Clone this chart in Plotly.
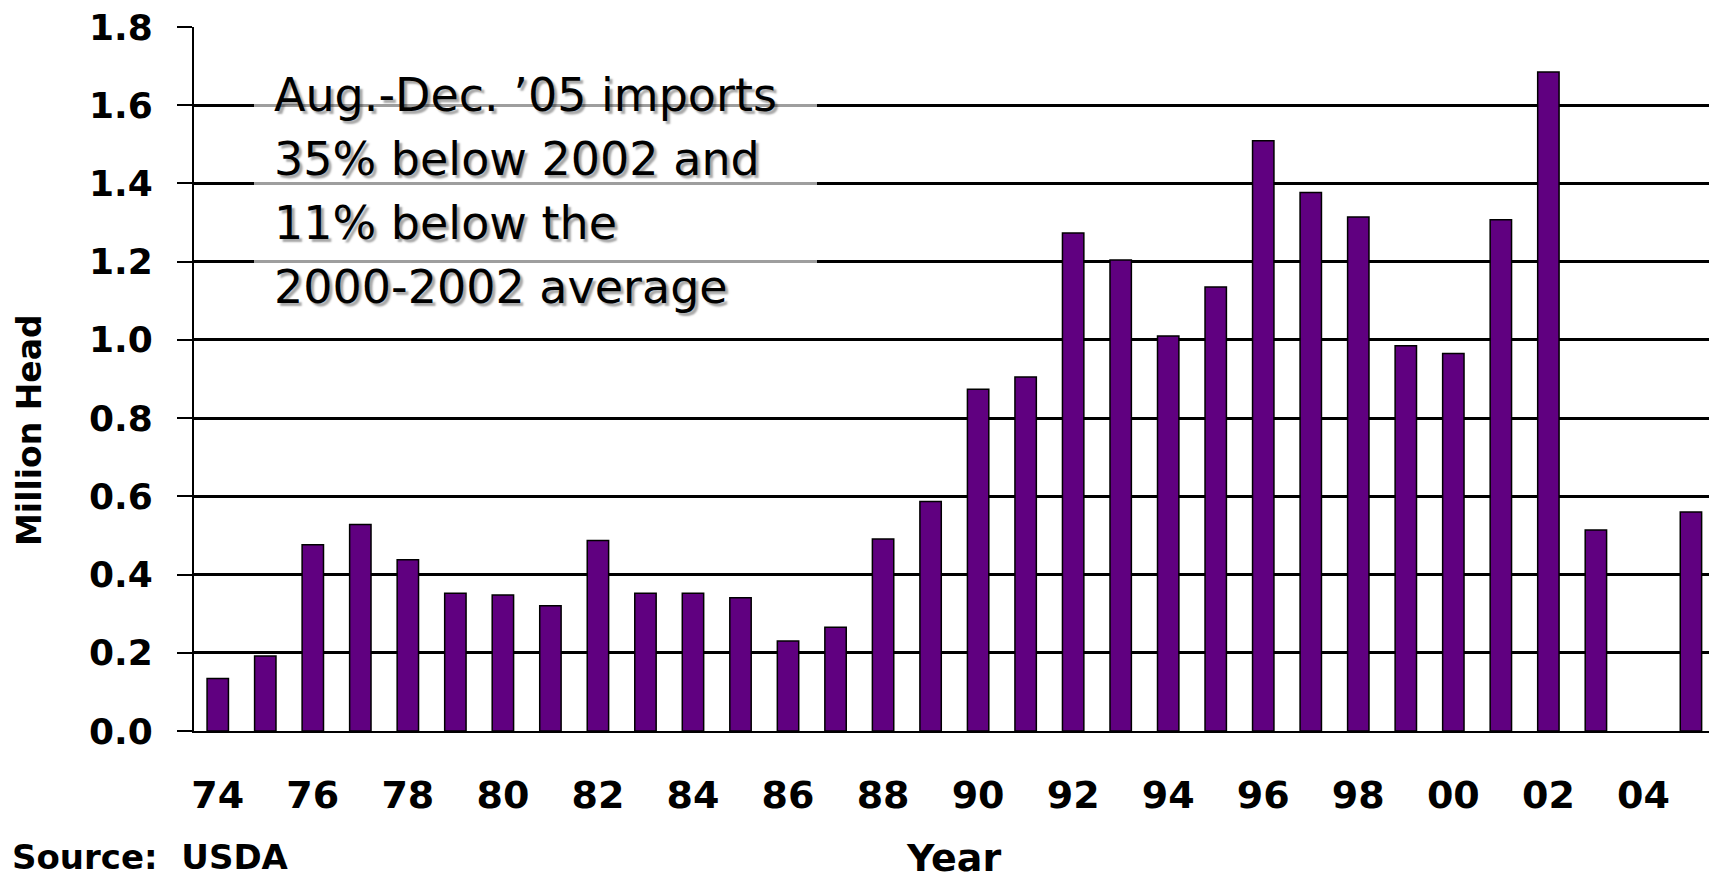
import plotly.graph_objects as go

# ---- data ----
years = ["74", "75", "76", "77", "78", "79", "80", "81", "82", "83", "84",
         "85", "86", "87", "88", "89", "90", "91", "92", "93", "94", "95",
         "96", "97", "98", "99", "00", "01", "02", "03", "04", "05"]
imports = [0.134, 0.192, 0.476, 0.528, 0.438, 0.352, 0.348, 0.320, 0.487, 0.352, 0.352,
           0.341, 0.230, 0.265, 0.491, 0.587, 0.874, 0.905, 1.273, 1.204, 1.010, 1.135,
           1.509, 1.377, 1.314, 0.985, 0.965, 1.307, 1.685, 0.514, None, 0.560]
tick_vals = ["74", "76", "78", "80", "82", "84", "86", "88", "90", "92", "94",
             "96", "98", "00", "02", "04"]
y_ticks = [0.0, 0.2, 0.4, 0.6, 0.8, 1.0, 1.2, 1.4, 1.6, 1.8]
note_lines = ["Aug.-Dec. \u201905 imports", "35% below 2002 and",
              "11% below the", "2000-2002 average"]

W, H = 1709, 880
L, T, B = 194, 27, 731          # plot area pixel edges
PW, PH = W - L, B - T


def px(x):
    return (x - L) / PW


def py(y):
    return (B - y) / PH


fig = go.Figure()
fig.add_trace(go.Bar(
    x=years, y=imports,
    marker=dict(color="#600080", line=dict(color="#000000", width=1.5)),
))

ann = []
baselines = [110, 174, 238, 302]
for txt, bl in zip(note_lines, baselines):
    ann.append(dict(
        text=txt, xref="paper", yref="paper", x=px(272), y=py(bl - 15),
        xanchor="left", yanchor="middle", showarrow=False,
        font=dict(family="DejaVu Sans", size=46, color="#000000",
                  shadow="3px 3px 2px rgba(0,0,0,0.35)"),
    ))
ann.append(dict(text="<b>Million Head</b>", xref="paper", yref="paper",
                x=px(29), y=py(430), textangle=-90, showarrow=False,
                xanchor="center", yanchor="middle",
                font=dict(family="DejaVu Sans", size=33, color="#000000")))
ann.append(dict(text="<b>Year</b>", xref="paper", yref="paper",
                x=px(953), y=py(858), showarrow=False,
                xanchor="center", yanchor="middle",
                font=dict(family="DejaVu Sans", size=38, color="#000000")))
ann.append(dict(text="<b>Source:  USDA</b>", xref="paper", yref="paper",
                x=px(10), y=py(857), showarrow=False,
                xanchor="left", yanchor="middle",
                font=dict(family="DejaVu Sans", size=34, color="#000000")))

fig.update_layout(
    width=W, height=H,
    margin=dict(l=L, r=0, t=T, b=H - B, pad=0),
    paper_bgcolor="white", plot_bgcolor="white",
    showlegend=False,
    bargap=0.55,
    annotations=ann,
    shapes=[dict(type="rect", xref="paper", yref="paper",
                 x0=px(254), x1=px(817), y0=py(320), y1=py(45),
                 fillcolor="rgba(255,255,255,0.62)", line=dict(width=0),
                 layer="above")],
    xaxis=dict(
        type="category", range=[-0.5, 31.38],
        tickmode="array", tickvals=tick_vals, ticktext=tick_vals,
        ticks="", showgrid=False, zeroline=False,
        showline=True, linecolor="#000000", linewidth=2,
        tickfont=dict(family="DejaVu Sans", size=38, color="#000000", weight="bold"),
        ticklabelstandoff=29,
    ),
    yaxis=dict(
        range=[0, 1.8], tickmode="array", tickvals=y_ticks,
        ticktext=[f"{v:.1f}" for v in y_ticks],
        ticks="outside", ticklen=15, tickwidth=1.5, tickcolor="#000000",
        showgrid=True, gridcolor="#000000", gridwidth=2.5,
        zeroline=False, showline=True, linecolor="#000000", linewidth=2,
        tickfont=dict(family="DejaVu Sans", size=36, color="#000000", weight="bold"),
        ticklabelstandoff=17,
    ),
)

fig.write_html(
    "out.html",
    config={"displayModeBar": False},
    post_script="document.body.style.margin='0';document.body.style.overflow='hidden';",
)
